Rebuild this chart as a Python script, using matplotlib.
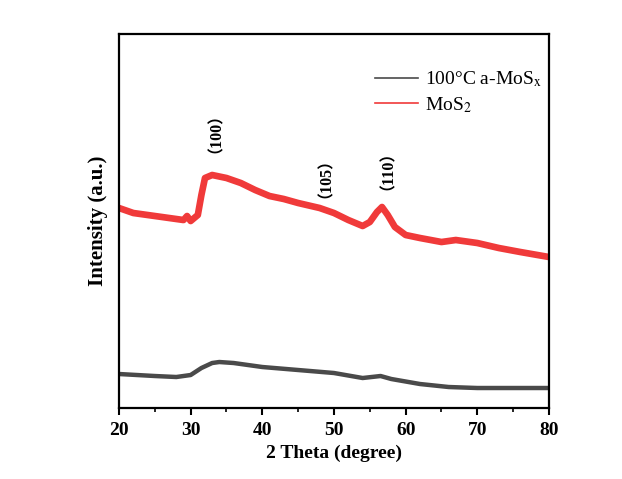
import matplotlib
matplotlib.use("Agg")
from matplotlib import pyplot as plt

# 2 theta values (degree) and intensities (arbitrary units)
mos2_theta = [20, 22, 25, 28, 29, 29.5, 30, 31, 31.5, 32, 33, 35, 37, 39, 41, 43, 45,
              48, 50, 52, 54, 55, 56, 56.7, 57.5, 58.5, 60, 62, 65, 67, 70, 73, 76, 80]
mos2_int = [200, 195, 192, 189, 188, 192, 187, 193, 213, 230, 233, 230, 225, 218, 212,
            209, 205, 200, 195, 188, 182, 186, 196, 201, 193, 181, 173, 170, 166, 168,
            165, 160, 156, 151]

amos_theta = [20, 25, 28, 30, 31.5, 33, 34, 36, 40, 45, 50, 54, 56.5, 58, 62, 66, 70, 75, 80]
amos_int = [34, 32, 31, 33, 40, 45, 46, 45, 41, 38, 35, 30, 32, 29, 24, 21, 20, 20, 20]

peak_labels = ["（100）", "（105）", "（110）"]
peak_x = [32.4, 47.7, 56.4]
peak_y = [283, 238, 246]

serif = ["Liberation Serif", "Noto Sans CJK SC", "DejaVu Sans"]
plt.rcParams['font.family'] = serif
plt.rcParams['mathtext.fontset'] = 'stix'

fig = plt.figure(figsize=(6.22, 4.79), dpi=100)
ax = fig.add_axes([0.1913, 0.1482, 0.6913, 0.7808])

ax.plot(amos_theta, amos_int, color='#4a4a4a', linewidth=3.2, solid_joinstyle='round',
        label=r'100°C a-MoS$_{\rm x}$')
ax.plot(mos2_theta, mos2_int, color='#f03a3a', linewidth=4.8, solid_joinstyle='round',
        label=r'MoS$_{2}$')

for lab, px, py in zip(peak_labels, peak_x, peak_y):
    ax.text(px, py, lab, rotation=90, ha='center', va='center', fontsize=11.5,
            fontweight='bold', family=serif)

ax.set_xlim(20, 80)
ax.set_ylim(0, 374)
ax.set_yticks([])
ax.set_xticks(range(20, 81, 10))
ax.set_xticks(range(25, 80, 10), minor=True)
ax.tick_params(axis='x', which='major', direction='out', length=5, width=1.5,
               labelsize=14, pad=5)
ax.tick_params(axis='x', which='minor', direction='out', length=3, width=1.2)
for lbl in ax.get_xticklabels():
    lbl.set_fontweight('bold')
for s in ax.spines.values():
    s.set_linewidth(1.6)

ax.set_xlabel('2 Theta (degree)', fontsize=14, fontweight='bold', labelpad=4)
ax.set_ylabel('Intensity (a.u.)', fontsize=15, fontweight='bold', labelpad=8)

leg = ax.legend(loc='upper left', bbox_to_anchor=(0.595, 0.905), frameon=False,
                fontsize=14, handlelength=2.2, handletextpad=0.4, borderpad=0,
                borderaxespad=0, labelspacing=0.3)
for h in leg.get_lines():
    h.set_linewidth(1.2)

fig.savefig('out.png', dpi=100)
